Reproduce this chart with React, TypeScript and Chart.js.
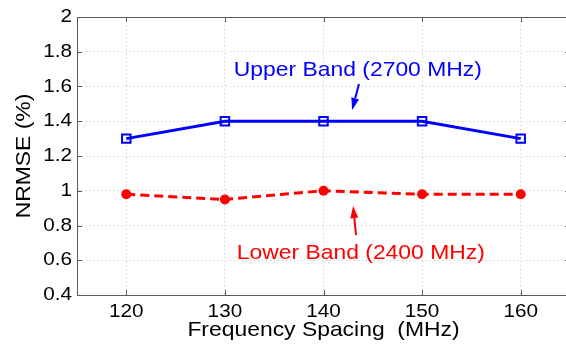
import { useEffect, useRef } from "react";
import { Chart, registerables } from "chart.js";

Chart.register(...registerables);

// Frequency spacing (MHz) on the x axis
const spacingMHz = [120, 130, 140, 150, 160];
// NRMSE (%) for each band
const upperBandNrmse = [1.3, 1.4, 1.4, 1.4, 1.3];
const lowerBandNrmse = [0.98, 0.95, 1.0, 0.98, 0.98];

const xTickValues = [120, 130, 140, 150, 160];
const yTickValues = [0.4, 0.6, 0.8, 1, 1.2, 1.4, 1.6, 1.8, 2];
const yTickLabels = ["0.4", "0.6", "0.8", "1", "1.2", "1.4", "1.6", "1.8", "2"];

const upperLabel = "Upper Band (2700 MHz)";
const lowerLabel = "Lower Band (2400 MHz)";
const xTitle = "Frequency Spacing  (MHz)";
const yTitle = "NRMSE (%)";

const FONT = "'Liberation Sans', Arial, Helvetica, sans-serif";
const AXIS_COLOR = "#5a5a5a";
const GRID_COLOR = "#c4c4c4";
const BLUE = "#0000ff";
const RED = "#ff0000";
// Helvetica as rendered by MATLAB is a touch wider than Liberation Sans
const GLYPH_STRETCH = 1.09;

type Callout = {
  text: string;
  color: string;
  textAt: [number, number];
  arrowFrom: [number, number];
  arrowTo: [number, number];
};

const callouts: Callout[] = [
  {
    text: upperLabel,
    color: BLUE,
    textAt: [130.9, 1.66],
    arrowFrom: [143.6, 1.614],
    arrowTo: [142.9, 1.465],
  },
  {
    text: lowerLabel,
    color: RED,
    textAt: [131.2, 0.607],
    arrowFrom: [143.3, 0.745],
    arrowTo: [143.0, 0.912],
  },
];

// Box outline, inward tick marks and the arrowed text labels
const matlabFrame = {
  id: "matlabFrame",
  afterDraw(chart: any) {
    const { ctx, chartArea } = chart;
    const { left, right, top, bottom } = chartArea;
    const xs = chart.scales.x;
    const ys = chart.scales.y;
    const tick = 5;

    ctx.save();
    ctx.lineWidth = 1;
    ctx.strokeStyle = AXIS_COLOR;
    ctx.setLineDash([]);
    ctx.beginPath();
    ctx.moveTo(left, Math.round(top) + 0.5);
    ctx.lineTo(right, Math.round(top) + 0.5);
    for (const v of xTickValues) {
      const px = Math.round(xs.getPixelForValue(v)) + 0.5;
      ctx.moveTo(px, bottom);
      ctx.lineTo(px, bottom - tick);
      ctx.moveTo(px, top);
      ctx.lineTo(px, top + tick);
    }
    for (const v of yTickValues) {
      const py = Math.round(ys.getPixelForValue(v)) + 0.5;
      ctx.moveTo(left, py);
      ctx.lineTo(left + tick, py);
      ctx.moveTo(right, py);
      ctx.lineTo(right - tick, py);
    }
    ctx.stroke();

    for (const c of callouts) {
      ctx.fillStyle = c.color;
      ctx.strokeStyle = c.color;
      ctx.font = `21px ${FONT}`;
      ctx.textAlign = "left";
      ctx.textBaseline = "alphabetic";
      ctx.fillText(c.text, xs.getPixelForValue(c.textAt[0]), ys.getPixelForValue(c.textAt[1]));

      const x1 = xs.getPixelForValue(c.arrowFrom[0]);
      const y1 = ys.getPixelForValue(c.arrowFrom[1]);
      const x2 = xs.getPixelForValue(c.arrowTo[0]);
      const y2 = ys.getPixelForValue(c.arrowTo[1]);
      const ang = Math.atan2(y2 - y1, x2 - x1);
      const headLen = 12;
      const headHalf = 4;
      const bx = x2 - headLen * Math.cos(ang);
      const by = y2 - headLen * Math.sin(ang);
      ctx.lineWidth = 2;
      ctx.beginPath();
      ctx.moveTo(x1, y1);
      ctx.lineTo(bx, by);
      ctx.stroke();
      ctx.beginPath();
      ctx.moveTo(x2, y2);
      ctx.lineTo(bx + headHalf * Math.sin(ang), by - headHalf * Math.cos(ang));
      ctx.lineTo(bx - headHalf * Math.sin(ang), by + headHalf * Math.cos(ang));
      ctx.closePath();
      ctx.fill();
    }
    ctx.restore();
  },
};

export default function App() {
  const canvasRef = useRef<HTMLCanvasElement | null>(null);

  useEffect(() => {
    const canvas = canvasRef.current;
    if (!canvas) return;
    const context = canvas.getContext("2d") as CanvasRenderingContext2D;
    const baseFillText = context.fillText.bind(context);
    // widen glyphs horizontally around their anchor point
    (context as any).fillText = (text: string, x: number, y: number) => {
      context.save();
      context.translate(x, y);
      context.scale(GLYPH_STRETCH, 1);
      baseFillText(text, 0, 0);
      context.restore();
    };

    const tickFont = { family: FONT, size: 19 };
    const titleFont = { family: FONT, size: 21 };

    const chart = new Chart(canvas, {
      type: "line",
      data: {
        datasets: [
          {
            label: upperLabel,
            data: spacingMHz.map((x, i) => ({ x, y: upperBandNrmse[i] })),
            borderColor: BLUE,
            borderWidth: 3,
            tension: 0,
            pointStyle: "rect",
            pointRadius: 6,
            pointBorderWidth: 2,
            pointBorderColor: BLUE,
            pointBackgroundColor: "rgba(0,0,0,0)",
          },
          {
            label: lowerLabel,
            data: spacingMHz.map((x, i) => ({ x, y: lowerBandNrmse[i] })),
            borderColor: RED,
            borderWidth: 3,
            borderDash: [9, 5],
            tension: 0,
            pointStyle: "circle",
            pointRadius: 5,
            pointBorderWidth: 0,
            pointBorderColor: RED,
            pointBackgroundColor: RED,
          },
        ],
      },
      options: {
        animation: false,
        responsive: false,
        devicePixelRatio: 1,
        layout: { padding: { top: 17, right: 30, bottom: 0, left: 0 } },
        plugins: { legend: { display: false }, tooltip: { enabled: false } },
        scales: {
          x: {
            type: "linear",
            min: 115,
            max: 165,
            afterBuildTicks: (s: any) => {
              s.ticks = xTickValues.map((v) => ({ value: v }));
            },
            afterFit: (s: any) => {
              s.height = 50;
            },
            grid: { color: GRID_COLOR, lineWidth: 1, drawTicks: false },
            border: { color: AXIS_COLOR, width: 1, dash: [1, 3] },
            ticks: {
              font: tickFont,
              color: "#000",
              padding: 5,
              maxRotation: 0,
              autoSkip: false,
              callback: (v: any) => String(v),
            },
            title: {
              display: true,
              text: xTitle,
              font: titleFont,
              color: "#000",
              padding: { top: 0, bottom: 2 },
            },
          },
          y: {
            type: "linear",
            min: 0.4,
            max: 2,
            afterBuildTicks: (s: any) => {
              s.ticks = yTickValues.map((v) => ({ value: v }));
            },
            afterFit: (s: any) => {
              s.width = 77;
            },
            grid: { color: GRID_COLOR, lineWidth: 1, drawTicks: false },
            border: { color: AXIS_COLOR, width: 1, dash: [1, 3] },
            ticks: {
              font: tickFont,
              color: "#000",
              padding: 5,
              autoSkip: false,
              callback: (_v: any, i: number) => yTickLabels[i],
            },
            title: {
              display: true,
              text: yTitle,
              font: titleFont,
              color: "#000",
              padding: { top: 12, bottom: 0 },
            },
          },
        },
      },
      plugins: [matlabFrame],
    });

    return () => chart.destroy();
  }, []);

  return (
    <div
      style={{
        position: "fixed",
        left: 0,
        top: 0,
        width: 566,
        height: 345,
        overflow: "hidden",
        background: "#fff",
      }}
    >
      <canvas ref={canvasRef} width={600} height={345} style={{ width: 600, height: 345, display: "block" }} />
    </div>
  );
}
